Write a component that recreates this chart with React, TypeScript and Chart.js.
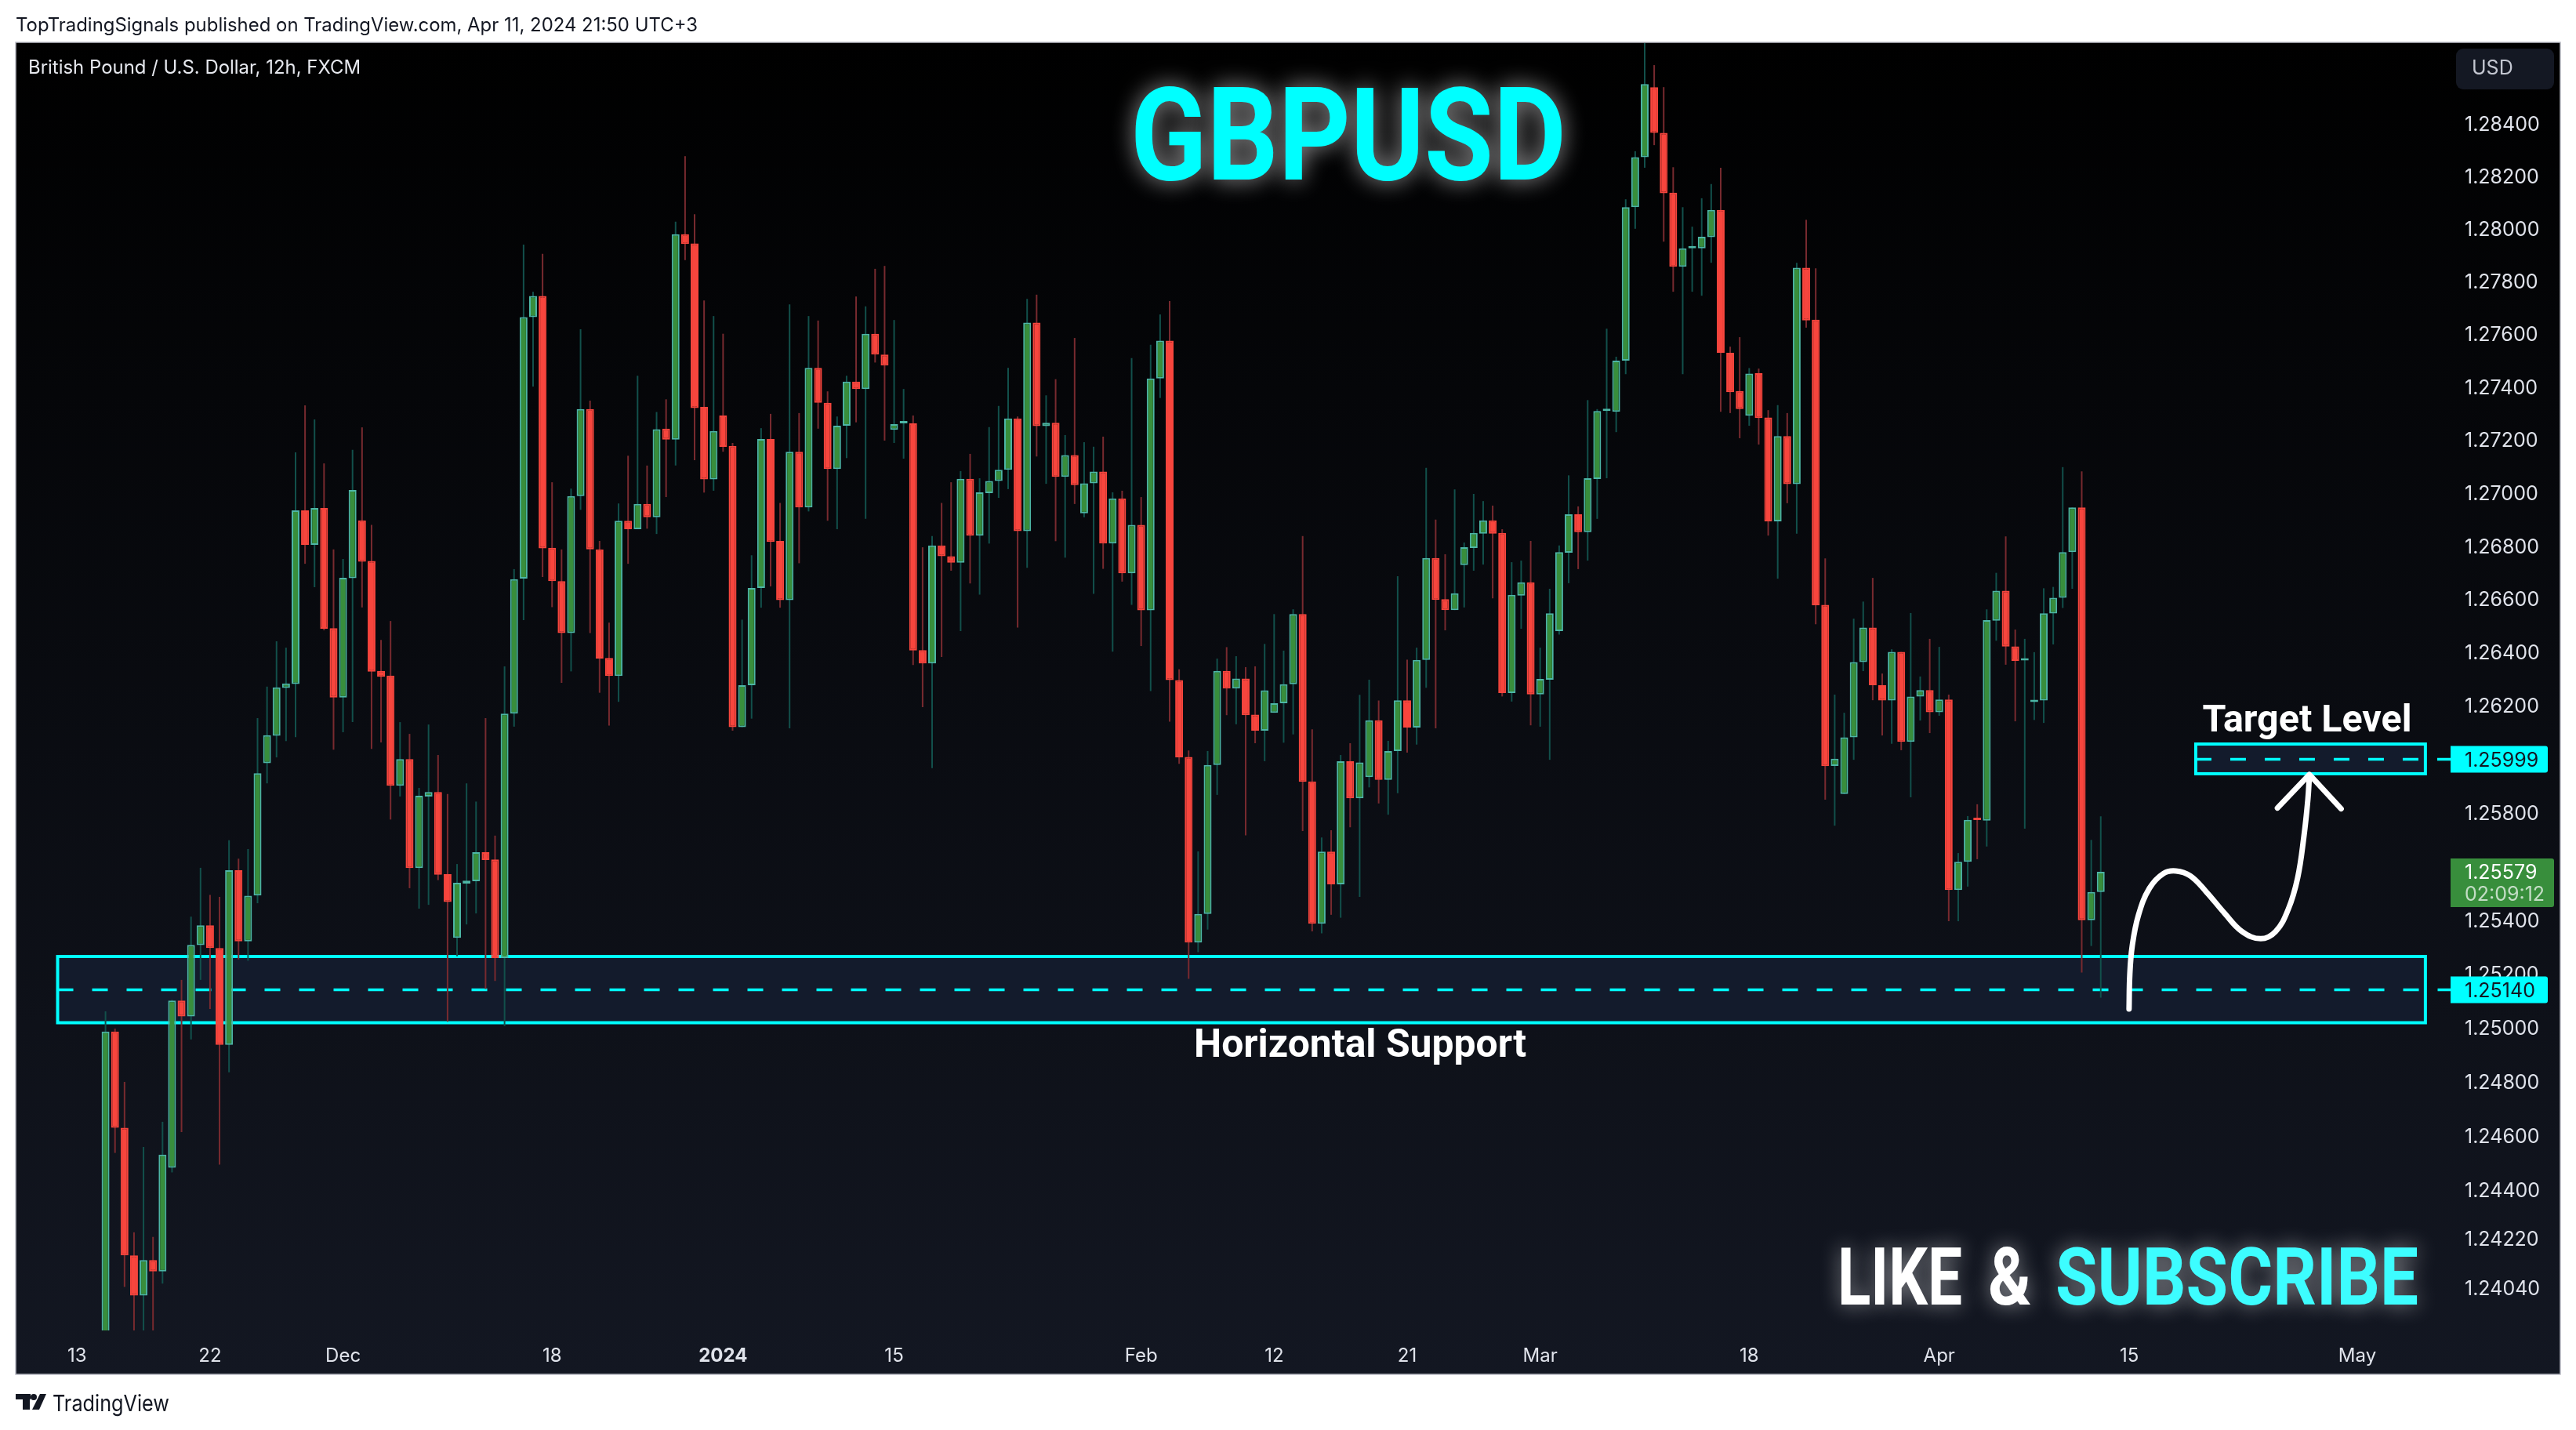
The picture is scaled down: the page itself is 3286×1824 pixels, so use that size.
import React, { useEffect, useRef } from "react";
import { Chart, registerables } from "chart.js";

Chart.register(...registerables);

const opens = [
1.2282,1.24985,1.24629,1.24158,1.2401,1.24141,1.24099,1.24481,1.251,1.25041,
1.25306,1.2538,1.25295,1.24936,1.25585,1.2532,1.25491,1.25984,1.26087,1.26266,
1.26281,1.26933,1.26803,1.26942,1.2649,1.2623,1.26678,1.26895,1.26743,1.2633,
1.26312,1.259,1.26,1.25593,1.2586,1.25877,1.2557,1.25333,1.25535,1.25544,
1.25652,1.25625,1.25258,1.2617,1.26676,1.27663,1.27743,1.26792,1.26667,1.26472,
1.26987,1.27315,1.26786,1.26378,1.26311,1.26894,1.26862,1.26957,1.26907,1.27241,
1.272,1.27977,1.27942,1.27323,1.2705,1.27291,1.27176,1.26119,1.26276,1.26641,
1.27202,1.26818,1.26595,1.27154,1.26944,1.27471,1.27339,1.27089,1.27252,1.27419,
1.27391,1.276,1.27521,1.27237,1.27261,1.27261,1.26408,1.26358,1.26801,1.2676,
1.26736,1.27052,1.26838,1.26998,1.27044,1.27086,1.2728,1.26855,1.27642,1.27251,
1.27263,1.27059,1.27141,1.26922,1.27035,1.27079,1.26808,1.26978,1.26696,1.26878,
1.26557,1.27431,1.27574,1.26295,1.26008,1.25316,1.25422,1.25978,1.2633,1.26264,
1.26301,1.26166,1.26106,1.26173,1.26209,1.2628,1.26543,1.25916,1.25386,1.25654,
1.25532,1.25992,1.25853,1.25932,1.26145,1.25922,1.2603,1.2622,1.26118,1.26371,
1.26754,1.26599,1.26558,1.26727,1.26791,1.26845,1.26895,1.26848,1.26247,1.26612,
1.26662,1.26242,1.26297,1.26479,1.26774,1.26918,1.26851,1.27051,1.27308,1.27305,
1.27498,1.2808,1.2827,1.28537,1.28363,1.28135,1.27854,1.27924,1.27924,1.27966,
1.2807,1.27528,1.27383,1.2729,1.27451,1.27283,1.26892,1.27213,1.27032,1.2785,
1.27653,1.26578,1.25974,1.25869,1.26081,1.26363,1.26492,1.26276,1.26219,1.26401,
1.26064,1.26234,1.26258,1.26175,1.26223,1.25511,1.25616,1.25775,1.2577,1.26518,
1.26631,1.26422,1.26369,1.26213,1.26219,1.26545,1.26604,1.26776,1.26944,1.25399,1.25504];

const highs = [
1.2506,1.24996,1.24799,1.24243,1.24558,1.24226,1.24651,1.25103,1.25177,1.25412,
1.25594,1.25493,1.25486,1.25697,1.25628,1.25664,1.26153,1.26271,1.26441,1.26417,
1.27152,1.27329,1.27276,1.2711,1.26786,1.2675,1.27161,1.27246,1.26878,1.26446,
1.26517,1.26138,1.26094,1.25892,1.26129,1.26015,1.25869,1.25608,1.25909,1.25841,
1.26153,1.25714,1.26347,1.26712,1.27938,1.27759,1.27903,1.27039,1.26786,1.27015,
1.27617,1.27347,1.26818,1.26511,1.26959,1.27139,1.27441,1.27102,1.27304,1.27352,
1.28025,1.28274,1.28053,1.27726,1.27667,1.276,1.27187,1.26522,1.26764,1.27243,
1.27297,1.26961,1.27711,1.273,1.27667,1.2765,1.27382,1.27287,1.27441,1.27741,
1.27704,1.27846,1.27857,1.27652,1.27391,1.27291,1.26794,1.26836,1.26961,1.27039,
1.27081,1.27146,1.27054,1.27247,1.27327,1.27471,1.27287,1.27732,1.27748,1.27367,
1.27428,1.27217,1.27584,1.2719,1.27173,1.27211,1.27001,1.27007,1.27508,1.26983,
1.27558,1.27673,1.27724,1.26336,1.26032,1.25655,1.2603,1.26376,1.26419,1.26385,
1.26344,1.26347,1.26431,1.26543,1.26406,1.26561,1.26836,1.26111,1.25707,1.25734,
1.26015,1.26059,1.2624,1.26297,1.26219,1.26068,1.26685,1.26372,1.26417,1.27093,
1.26898,1.26768,1.27012,1.26812,1.26995,1.26968,1.26951,1.26862,1.26738,1.26744,
1.26818,1.26417,1.26638,1.26801,1.27065,1.26948,1.27349,1.27315,1.27619,1.27513,
1.2811,1.28293,1.2872,1.28621,1.28537,1.28232,1.2808,1.28006,1.28114,1.28168,
1.2823,1.27551,1.27587,1.2747,1.27468,1.27311,1.2733,1.273,1.27869,1.28032,
1.27848,1.26752,1.26241,1.26173,1.26526,1.2659,1.26679,1.2632,1.26411,1.26401,
1.26547,1.26309,1.2645,1.2642,1.26241,1.25649,1.25787,1.25831,1.26561,1.26698,
1.26835,1.26485,1.2645,1.264,1.2664,1.26645,1.27096,1.26944,1.2708,1.25698,1.25786];

const lows = [
1.2276,1.24536,1.24042,1.238,1.2382,1.2384,1.24054,1.24464,1.24613,1.24956,
1.25177,1.25069,1.24493,1.24834,1.25253,1.25248,1.25462,1.25909,1.26006,1.26067,
1.26082,1.26732,1.26644,1.26482,1.26035,1.261,1.26138,1.26568,1.26038,1.26062,
1.25774,1.2586,1.25518,1.25442,1.25456,1.25548,1.25022,1.25265,1.25383,1.25424,
1.25143,1.25173,1.25006,1.26121,1.2652,1.274,1.26682,1.26569,1.26285,1.26328,
1.26935,1.26472,1.26248,1.26125,1.26214,1.26732,1.26862,1.26864,1.26844,1.26983,
1.27102,1.27879,1.27122,1.27,1.27007,1.27154,1.26106,1.26119,1.26151,1.26567,
1.26647,1.26567,1.26115,1.26734,1.26929,1.27241,1.26894,1.26862,1.2713,1.27265,
1.26901,1.27491,1.27196,1.27187,1.27128,1.26352,1.26194,1.25966,1.26382,1.26706,
1.26479,1.26658,1.26616,1.26808,1.2698,1.27013,1.26492,1.26717,1.27136,1.27033,
1.26817,1.26755,1.26957,1.26907,1.26619,1.26713,1.26402,1.26665,1.26578,1.26423,
1.26254,1.27357,1.2614,1.25982,1.25181,1.2528,1.25364,1.25866,1.26164,1.2613,
1.25715,1.26059,1.25992,1.26173,1.26061,1.26092,1.25731,1.25357,1.2535,1.25419,
1.25408,1.25745,1.25486,1.25894,1.25834,1.25792,1.25872,1.26024,1.26054,1.26267,
1.26115,1.26482,1.26558,1.26568,1.26706,1.26729,1.26602,1.26234,1.26215,1.26488,
1.26126,1.26121,1.25997,1.26466,1.26659,1.26712,1.26744,1.26901,1.27054,1.27228,
1.27447,1.27998,1.2823,1.28316,1.27949,1.27759,1.27447,1.27759,1.27744,1.27869,
1.27305,1.273,1.27205,1.27252,1.27181,1.26838,1.26676,1.2696,1.26845,1.27623,
1.26505,1.25848,1.25751,1.25869,1.25997,1.26329,1.2622,1.26088,1.26057,1.26033,
1.25857,1.26144,1.26097,1.26162,1.25395,1.25395,1.25524,1.25626,1.25673,1.26443,
1.26353,1.26141,1.2574,1.26146,1.26135,1.26429,1.26566,1.26638,1.25204,1.25303,1.25111];

const closes = [
1.24985,1.24629,1.24158,1.2401,1.24141,1.24099,1.2453,1.251,1.25041,1.25307,
1.2538,1.25295,1.24936,1.25585,1.2532,1.2549,1.25947,1.26089,1.26268,1.26283,
1.26933,1.26803,1.26942,1.26488,1.2623,1.26679,1.2701,1.2674,1.26327,1.26308,
1.259,1.26,1.25593,1.25863,1.25877,1.25568,1.25467,1.25538,1.25546,1.25652,
1.25623,1.25258,1.2617,1.26674,1.27663,1.27743,1.2679,1.26667,1.26472,1.26987,
1.27315,1.26786,1.26376,1.26311,1.26894,1.26862,1.26957,1.26907,1.27239,1.272,
1.27977,1.2794,1.27319,1.2705,1.27232,1.27172,1.26119,1.26276,1.26641,1.27202,
1.26814,1.26595,1.27154,1.26944,1.27471,1.27339,1.27089,1.27252,1.27419,1.27391,
1.276,1.27521,1.2748,1.27258,1.27265,1.26406,1.26358,1.26801,1.2676,1.26736,
1.27052,1.26838,1.27001,1.27044,1.27086,1.2728,1.26855,1.27642,1.27251,1.27263,
1.27059,1.27141,1.27028,1.27035,1.27079,1.26808,1.26978,1.26696,1.26878,1.26557,
1.27431,1.27574,1.26295,1.26006,1.25316,1.25422,1.25978,1.2633,1.26264,1.26301,
1.26164,1.26106,1.26257,1.26209,1.2628,1.26543,1.25915,1.25386,1.25654,1.25532,
1.25992,1.25853,1.25987,1.26145,1.25922,1.2603,1.2622,1.26118,1.26371,1.26754,
1.26596,1.26558,1.26621,1.26794,1.26848,1.26895,1.26845,1.26247,1.26615,1.26662,
1.26242,1.263,1.26546,1.26776,1.26918,1.26851,1.27054,1.27308,1.27311,1.27498,
1.2808,1.2827,1.28549,1.28363,1.28133,1.27854,1.27924,1.27928,1.27968,1.2807,
1.27528,1.27379,1.27315,1.27449,1.27281,1.26892,1.27213,1.27032,1.2785,1.2765,
1.26576,1.25973,1.26001,1.26081,1.26363,1.26492,1.26276,1.26219,1.26401,1.26064,
1.26234,1.26258,1.26175,1.26223,1.25511,1.25616,1.25773,1.25772,1.2652,1.26631,
1.26421,1.26367,1.26373,1.26217,1.26546,1.26604,1.26776,1.26944,1.25399,1.25504,1.25579];

const priceTicks = [1.284,1.282,1.28,1.278,1.276,1.274,1.272,1.27,1.268,1.266,1.264,1.262,1.258,1.254,1.252,1.25,1.248,1.246,1.244,1.2422,1.2404];
const timeTickBars = [-3,11,25,47,65,83,109,123,137,151,173,193,213,237];
const timeTickLabels = ["13","22","Dec","18","2024","15","Feb","12","21","Mar","18","Apr","15","May"];

const curveBars = [212.98,213.06,213.31,213.97,215.13,216.61,217.93,219.42,221.07,223.05,224.86,226.84,228.41,229.73,230.72,231.38,231.8,231.96];
const curvePrices = [1.25069,1.25197,1.25302,1.25418,1.25518,1.25573,1.25582,1.25564,1.25506,1.25424,1.25357,1.2533,1.25357,1.25439,1.25556,1.2571,1.25848,1.25936];
const arrowBars = [228.6,231.96,235.3];
const arrowPrices = [1.25817,1.25942,1.25814];

const supportZone = { fromBar: -5.04, toBar: 244.17, top: 1.25264, bottom: 1.25018, level: 1.2514 };
const targetZone = { fromBar: 220, toBar: 244.17, top: 1.26056, bottom: 1.25945, level: 1.25999 };
const lastPrice = closes[closes.length - 1];

const CYAN = "#00ffff";
const W = 3286;
const H = 1824;
const AXIS_FONT = "Inter, Roboto, sans-serif";

function text(ctx: any, s: string, x: number, y: number, font: string, color: string, align: any = "left", maxW?: number) {
  ctx.font = font;
  ctx.fillStyle = color;
  ctx.textAlign = align;
  ctx.textBaseline = "middle";
  if (maxW) ctx.fillText(s, x, y, maxW);
  else ctx.fillText(s, x, y);
}

function glow(ctx: any, s: string, x: number, y: number, font: string, color: string, shadow: string, blur: number, maxW: number) {
  ctx.save();
  ctx.shadowColor = shadow;
  ctx.shadowBlur = blur;
  text(ctx, s, x, y, font, color, "left", maxW);
  ctx.restore();
}

function roundBox(ctx: any, x: number, y: number, w: number, h: number, r: any, color: string) {
  ctx.beginPath();
  ctx.roundRect(x, y, w, h, r);
  ctx.fillStyle = color;
  ctx.fill();
}

const backdrop = {
  id: "backdrop",
  beforeDraw(chart: any) {
    const ctx = chart.ctx;
    ctx.save();
    ctx.fillStyle = "#ffffff";
    ctx.fillRect(0, 0, W, H);
    const g = ctx.createLinearGradient(0, 54, 0, 1753);
    g.addColorStop(0, "#000000");
    g.addColorStop(1, "#131722");
    ctx.fillStyle = g;
    ctx.fillRect(20, 54, 3246, 1699);
    ctx.strokeStyle = "#b9bbc4";
    ctx.lineWidth = 1.5;
    ctx.strokeRect(20, 54, 3246, 1699);
    ctx.restore();
  },
};

const zones = {
  id: "zones",
  beforeDatasetsDraw(chart: any) {
    const { ctx, chartArea } = chart;
    const xs = chart.scales.x;
    const ys = chart.scales.y;
    ctx.save();
    for (const z of [supportZone, targetZone]) {
      const x0 = xs.getPixelForValue(z.fromBar);
      const x1 = xs.getPixelForValue(z.toBar);
      const y0 = ys.getPixelForValue(z.top);
      const y1 = ys.getPixelForValue(z.bottom);
      ctx.fillStyle = "#131b2c";
      ctx.fillRect(x0, y0, x1 - x0, y1 - y0);
      ctx.strokeStyle = CYAN;
      ctx.lineWidth = 4;
      ctx.setLineDash([]);
      ctx.strokeRect(x0, y0, x1 - x0, y1 - y0);
      const ly = ys.getPixelForValue(z.level);
      ctx.lineWidth = 3.5;
      ctx.setLineDash([20, 24]);
      ctx.beginPath();
      ctx.moveTo(x0, ly);
      ctx.lineTo(chartArea.right, ly);
      ctx.stroke();
    }
    ctx.restore();
  },
};

const overlay = {
  id: "overlay",
  afterDraw(chart: any) {
    const { ctx, chartArea } = chart;
    const ys = chart.scales.y;
    const ax = chartArea.right;
    const tx = ax + 18;
    const labelFont = `25px ${AXIS_FONT}`;
    ctx.save();
    // header / footer
    text(ctx, "TopTradingSignals published on TradingView.com, Apr 11, 2024 21:50 UTC+3", 20, 33, `24px ${AXIS_FONT}`, "#131722", "left", 870);
    text(ctx, "British Pound / U.S. Dollar, 12h, FXCM", 36, 87, `24px ${AXIS_FONT}`, "#e6e8ee", "left", 424);
    text(ctx, "TradingView", 67, 1791, `29px ${AXIS_FONT}`, "#131722", "left", 149);
    ctx.fillStyle = "#131722";
    ctx.fillRect(20, 1778, 19, 7);
    ctx.fillRect(29, 1778, 9, 20);
    ctx.beginPath();
    ctx.arc(43, 1782, 4, 0, Math.PI * 2);
    ctx.fill();
    ctx.beginPath();
    ctx.moveTo(51, 1778);
    ctx.lineTo(59, 1778);
    ctx.lineTo(50, 1798);
    ctx.lineTo(41, 1798);
    ctx.closePath();
    ctx.fill();
    // currency button
    roundBox(ctx, 3133, 62, 125, 52, 9, "#141823");
    text(ctx, "USD", 3153, 87, `25px ${AXIS_FONT}`, "#c3c6d0");
    // price tags
    for (const v of [targetZone.level, supportZone.level]) {
      const y = ys.getPixelForValue(v);
      roundBox(ctx, ax, y - 17, 124, 34, [0, 3, 3, 0], CYAN);
      text(ctx, v.toFixed(5), tx, y + 2, labelFont, "#131722");
    }
    const ly = ys.getPixelForValue(lastPrice);
    roundBox(ctx, ax, ly - 17, 132, 62, [0, 3, 3, 0], "#388e3c");
    text(ctx, lastPrice.toFixed(5), tx, ly + 1, labelFont, "#ffffff");
    text(ctx, "02:09:12", tx, ly + 29, labelFont, "rgba(255,255,255,0.7)");
    // titles
    glow(ctx, "GBPUSD", 1442, 187, `bold 166px Roboto, sans-serif`, "#00ffff", "rgba(255,255,255,0.6)", 30, 556);
    text(ctx, "Horizontal Support", 1735, 1335, `bold 50px Roboto, sans-serif`, "#ffffff", "center", 424);
    text(ctx, "Target Level", 2943, 921, `bold 49px Roboto, sans-serif`, "#ffffff", "center", 267);
    const sub = `bold 102px Roboto, sans-serif`;
    glow(ctx, "LIKE", 2344, 1638, sub, "#ffffff", "rgba(255,255,255,0.5)", 26, 159);
    glow(ctx, "&", 2536, 1638, sub, "#ffffff", "rgba(255,255,255,0.5)", 26, 55);
    glow(ctx, "SUBSCRIBE", 2622, 1638, sub, "#3dfdff", "rgba(255,255,255,0.5)", 26, 463);
    ctx.restore();
  },
};

export default function App() {
  const ref = useRef<HTMLCanvasElement>(null);
  useEffect(() => {
    const isUp = (i: number) => closes[i] >= opens[i];
    const bars = opens.map((_, i) => i);
    const chart = new Chart(ref.current as any, {
      type: "bar",
      data: {
        datasets: [
          {
            type: "bar",
            order: 3,
            data: bars.map((i) => ({ x: i, y: [lows[i], highs[i]] })),
            backgroundColor: (c: any) => (isUp(c.dataIndex) ? "#12504b" : "#782a2f"),
            maxBarThickness: 2,
            barPercentage: 1,
            categoryPercentage: 1,
            grouped: false,
            borderWidth: 0,
            inflateAmount: 0,
          },
          {
            type: "bar",
            order: 2,
            data: bars.map((i) => ({ x: i, y: [opens[i], closes[i]] })),
            backgroundColor: (c: any) => (isUp(c.dataIndex) ? "#388e3c" : "#f7453d"),
            borderColor: (c: any) => (isUp(c.dataIndex) ? "#4db6a6" : "#f7453d"),
            borderWidth: 2,
            borderSkipped: false,
            maxBarThickness: 10,
            minBarLength: 3,
            barPercentage: 1,
            categoryPercentage: 1,
            grouped: false,
            inflateAmount: 0,
          },
          {
            type: "line",
            order: 1,
            data: curveBars.map((x, i) => ({ x, y: curvePrices[i] })),
            borderColor: "#ffffff",
            borderWidth: 7,
            borderCapStyle: "round",
            tension: 0.4,
            pointRadius: 0,
          },
          {
            type: "line",
            order: 0,
            data: arrowBars.map((x, i) => ({ x, y: arrowPrices[i] })),
            borderColor: "#ffffff",
            borderWidth: 7,
            borderCapStyle: "round",
            borderJoinStyle: "round",
            tension: 0,
            pointRadius: 0,
          },
        ],
      } as any,
      options: {
        animation: false,
        responsive: false,
        devicePixelRatio: 1,
        layout: { autoPadding: false, padding: { left: 21, top: 55, right: 21, bottom: 71 } },
        plugins: { legend: { display: false }, tooltip: { enabled: false } },
        scales: {
          x: {
            type: "linear",
            offset: false,
            bounds: "data",
            min: -9.373,
            max: 246.82,
            grid: { display: false, drawTicks: false },
            border: { display: false },
            afterBuildTicks: (s: any) => {
              s.ticks = timeTickBars.map((value) => ({ value }));
            },
            afterFit: (s: any) => {
              s.height = 56;
            },
            ticks: {
              autoSkip: false,
              maxRotation: 0,
              minRotation: 0,
              padding: 18,
              color: "#e0e3eb",
              font: (c: any) => ({
                family: AXIS_FONT,
                size: 24,
                weight: timeTickLabels[c.index] === "2024" ? "bold" : "normal",
              }),
              callback: (_v: any, i: number) => timeTickLabels[i],
            },
          },
          y: {
            type: "logarithmic",
            position: "right",
            bounds: "data",
            beginAtZero: false,
            min: 1.238818,
            max: 1.28705,
            grid: { display: false, drawTicks: false },
            border: { display: false },
            afterBuildTicks: (s: any) => {
              s.ticks = priceTicks.map((value) => ({ value }));
            },
            afterFit: (s: any) => {
              s.width = 139;
            },
            ticks: {
              autoSkip: false,
              padding: 18,
              crossAlign: "near",
              labelOffset: 2,
              color: "#e0e3eb",
              font: { family: AXIS_FONT, size: 25 },
              callback: (v: any) => Number(v).toFixed(5),
            },
          },
        },
      } as any,
      plugins: [backdrop, zones, overlay],
    } as any);
    return () => chart.destroy();
  }, []);
  return (
    <div style={{ position: "absolute", left: 0, top: 0, width: W, height: H }}>
      <canvas ref={ref} width={W} height={H} style={{ display: "block", width: W, height: H }} />
    </div>
  );
}
